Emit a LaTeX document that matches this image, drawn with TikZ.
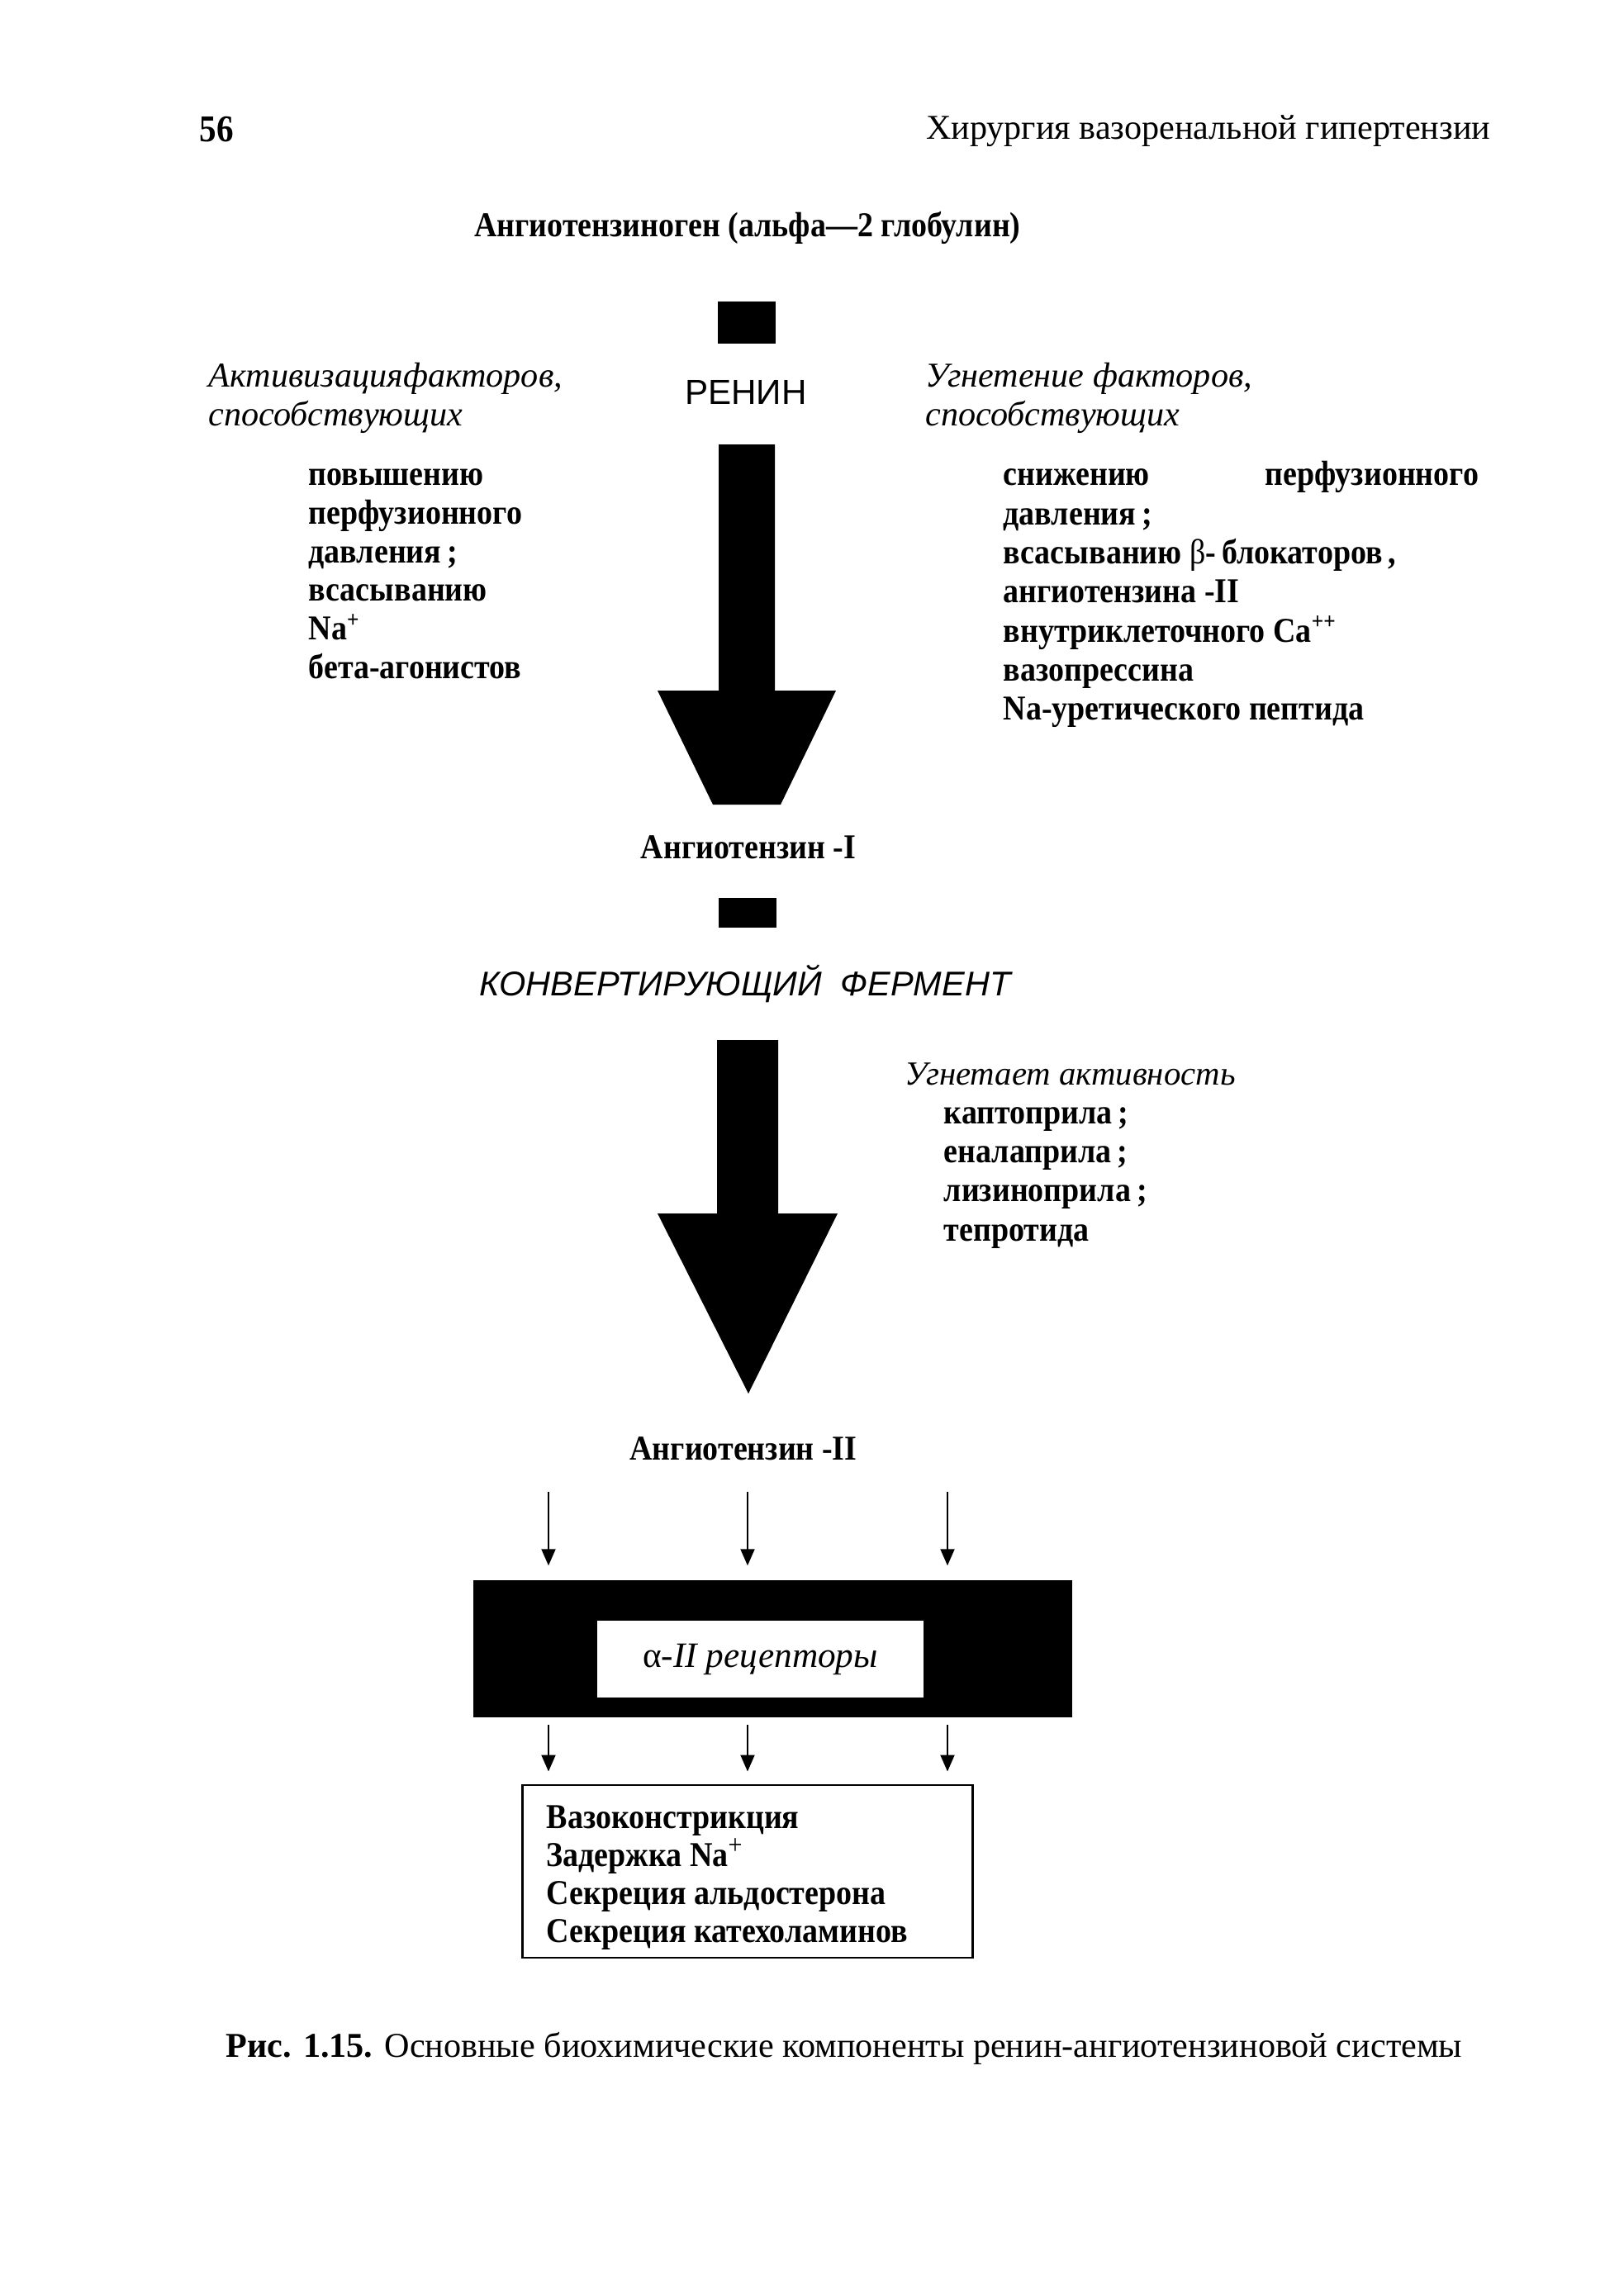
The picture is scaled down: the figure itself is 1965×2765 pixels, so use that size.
\documentclass[tikz,border=0pt]{standalone}
\usepackage{fontspec}
\setmainfont{Liberation Serif}[FakeStretch=0.9]
\newfontfamily\plainserif{Liberation Serif}
\newfontfamily\sansfont{Liberation Sans}
\usetikzlibrary{positioning,calc,arrows.meta}

\tikzset{
	txt/.style={inner sep=0pt,font=\fontsize{12pt}{13.3pt}\selectfont},
	lst/.style={inner sep=0pt,align=left,anchor=north west,font=\fontsize{12pt}{13.3pt}\selectfont\bfseries},
	itl/.style={inner sep=0pt,align=left,anchor=north west,font=\fontsize{12pt}{13.3pt}\selectfont\plainserif\itshape},
	blk/.style={fill=black,draw=none,inner sep=0pt},
	sm/.style={line width=0.6pt,-{Triangle[length=2mm,width=1.7mm]}},
}

\begin{document}
\begin{tikzpicture}[x=0.01cm,y=-0.01cm]
		\useasboundingbox[fill=white] (0,0) rectangle (1965,2765);
		% page head
		\node[txt,anchor=base west,font=\fontsize{13pt}{14pt}\selectfont\bfseries] (pg) at (241,171) {56};
		\node[txt,anchor=base east,font=\fontsize{12pt}{13.3pt}\selectfont\plainserif] (head) at (1805,168) {Хирургия вазоренальной гипертензии};
		
		\node[txt,anchor=base,font=\fontsize{12pt}{13.3pt}\selectfont\bfseries] (agn) at (905,286) {Ангиотензиноген (альфа—2 глобулин)};
		\node[blk,minimum width=0.7cm,minimum height=0.51cm] (sq1) at (904,390.5) {};
		\node[txt,anchor=base,font=\fontsize{12pt}{13.3pt}\selectfont\sansfont] (ren) at (903,489) {РЕНИН};
		\node[itl] (lit) at (252,435) {\strut Активизацияфакторов,\\способствующих};
		\node[itl] (rit) at (1120,435) {\strut Угнетение факторов,\\способствующих};
		\node[lst] (lft) at (373,554) {\strut повышению\\перфузионного\\давления\,;\\всасыванию\\Na\textsuperscript{+}\\бета-агонистов};
		\node[lst,font=\fontsize{12pt}{13.45pt}\selectfont\bfseries] (rgt) at (1214,554) {\strut\hbox to 5.75cm{снижению\hfill перфузионного}\\давления\,;\\всасыванию {\mdseries β}-\,блокаторов\,,\\ангиотензина -II\\внутриклеточного Ca\textsuperscript{++}\\вазопрессина\\Na-уретического пептида};
		
		% renin arrow
		\fill (870,538) -- (938,538) -- (938,836) -- (1012,836) -- (945,974) -- (863,974) -- (796,836) -- (870,836) -- cycle;
		
		\node[txt,anchor=base,font=\fontsize{12pt}{13.3pt}\selectfont\bfseries] (at1) at (906,1039) {Ангиотензин -I};
		\node[blk,minimum width=0.7cm,minimum height=0.36cm] (sq2) at (905,1105) {};
		\node[txt,anchor=base,font=\fontsize{11.8pt}{13.3pt}\selectfont\sansfont\itshape] (ace) at (902,1205) {КОНВЕРТИРУЮЩИЙ~~ФЕРМЕНТ};
		
		% converting enzyme arrow
		\fill (868,1259) -- (942,1259) -- (942,1469) -- (1014,1469) -- (906,1687) -- (796,1469) -- (868,1469) -- cycle;
		
		\node[txt,anchor=base west,font=\fontsize{11.6pt}{13.3pt}\selectfont\plainserif\itshape] (ugn) at (1095,1313) {Угнетает активность};
		\node[lst,font=\fontsize{12pt}{13.4pt}\selectfont\bfseries] (inh) at (1142,1327) {\strut каптоприла\,;\\еналаприла\,;\\лизиноприла\,;\\тепротида};
		
		\node[txt,anchor=base,font=\fontsize{12pt}{13.3pt}\selectfont\bfseries] (at2) at (900,1767) {Ангиотензин -II};
		\node[blk,minimum width=7.25cm,minimum height=1.66cm] (rb) at (935.5,1996) {};
		\node[fill=white,inner sep=0pt,minimum width=3.95cm,minimum height=0.93cm,font=\fontsize{12.3pt}{13.3pt}\selectfont\plainserif] (rc) at (920.5,2008.5) {α-\textit{II рецепторы}};
		\node[draw,line width=0.8pt,inner sep=0pt,minimum width=5.44cm,minimum height=2.09cm] (eff) at (905,2265.5) {};
		\node[lst,font=\fontsize{12pt}{13.15pt}\selectfont\bfseries] (efft) at (661,2180) {\strut Вазоконстрикция\\Задержка Na\smash{\textsuperscript{\mdseries\fontsize{9.5pt}{9.5pt}\selectfont +}}\\Секреция альдостерона\\Секреция катехоламинов};
		
		\coordinate (t1) at (664,1806);
		\coordinate (t2) at (905,1806);
		\coordinate (t3) at (1147,1806);
		\draw[sm,shorten >=0.17cm] (t1) -- (t1 |- rb.north);
		\draw[sm,shorten >=0.17cm] (t2) -- (t2 |- rb.north);
		\draw[sm,shorten >=0.17cm] (t3) -- (t3 |- rb.north);
		\draw[sm,shorten <=0.08cm,shorten >=0.15cm] (rb.south -| t1) -- (eff.north -| t1);
		\draw[sm,shorten <=0.08cm,shorten >=0.15cm] (rb.south -| t2) -- (eff.north -| t2);
		\draw[sm,shorten <=0.08cm,shorten >=0.15cm] (rb.south -| t3) -- (eff.north -| t3);
		
		\node[txt,anchor=base west,font=\fontsize{12pt}{13.3pt}\selectfont\plainserif] (cap) at (273,2490) {\textbf{Рис. 1.15.} Основные биохимические компоненты ренин-ангиотензиновой системы};
	\end{tikzpicture}
\end{document}
